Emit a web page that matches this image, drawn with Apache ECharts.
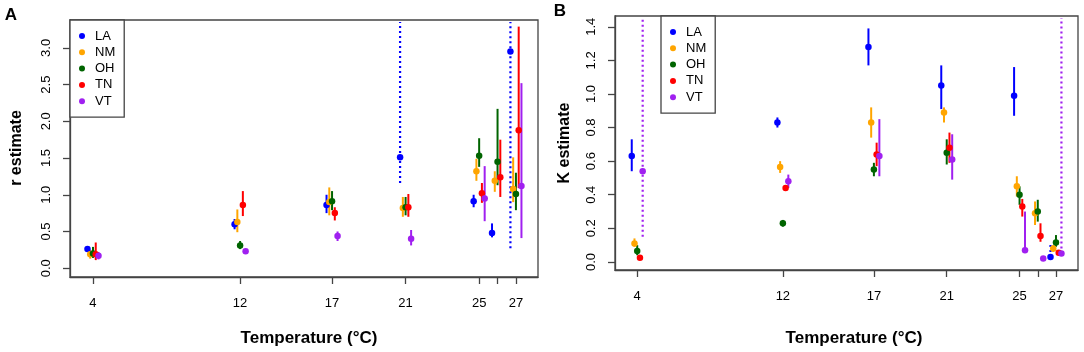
<!DOCTYPE html>
<html>
<head>
<meta charset="utf-8">
<script src="https://cdn.jsdelivr.net/npm/echarts@6/dist/echarts.min.js"></script>
<style>
html,body{margin:0;padding:0;background:#fff;}
#chart{width:1084px;height:352px;}
</style>
</head>
<body>
<div id="chart"></div>
<script>
// ---------- data ----------
const temps = [4, 12, 17, 21, 25, 26, 27];
const tickTemps = [4, 12, 17, 21, 25, 26, 27];
const labelTemps = [4, 12, 17, 21, 25, 27];
const pops = ['LA', 'NM', 'OH', 'TN', 'VT'];
const rTicks = [0, 0.5, 1, 1.5, 2, 2.5, 3];
const kTicks = [0, 0.2, 0.4, 0.6, 0.8, 1.0, 1.2, 1.4];

// Panel A: r estimate (Infinity = interval runs off the top)
const rLA    = [0.26, 0.60, 0.86, 1.51, 0.91, 0.48, 2.95];
const rLA_lo = [0.23, 0.53, 0.75, 1.16, 0.83, 0.42, 0.27];
const rLA_hi = [0.29, 0.67, 1.00, Infinity, 1.00, 0.61, Infinity];
const rLA_dot = [0, 0, 0, 1, 0, 0, 1];
const rNM    = [0.19, 0.63, 0.90, 0.82, 1.32, 1.19, 1.08];
const rNM_lo = [0.13, 0.49, 0.72, 0.70, 1.19, 1.04, 0.90];
const rNM_hi = [0.25, 0.80, 1.10, 0.97, 1.49, 1.32, 1.51];
const rOH    = [0.20, 0.31, 0.91, 0.83, 1.53, 1.45, 1.01];
const rOH_lo = [0.14, 0.26, 0.79, 0.72, 1.38, 1.13, 0.79];
const rOH_hi = [0.29, 0.37, 1.05, 0.97, 1.77, 2.17, 1.30];
const rTN    = [0.19, 0.86, 0.75, 0.83, 1.02, 1.24, 1.88];
const rTN_lo = [0.11, 0.71, 0.65, 0.70, 0.89, 0.97, 1.09];
const rTN_hi = [0.35, 1.05, 0.83, 1.01, 1.16, 1.75, 3.29];
const rVT    = [0.17, 0.23, 0.44, 0.40, 0.95, null, 1.12];
const rVT_lo = [0.12, 0.21, 0.37, 0.31, 0.64, null, 0.41];
const rVT_hi = [0.22, 0.26, 0.50, 0.52, 1.39, null, 2.52];

// Panel B: K estimate
const kLA    = [0.63, 0.83, 1.28, 1.05, 0.99, null, 0.03];
const kLA_lo = [0.54, 0.80, 1.17, 0.91, 0.87, null, 0.03];
const kLA_hi = [0.73, 0.86, 1.39, 1.17, 1.16, null, 0.11];
const kLA_dot = [0, 0, 0, 0, 0, 0, 1];
const kNM    = [0.11, 0.565, 0.83, 0.89, 0.45, 0.29, 0.08];
const kNM_lo = [0.09, 0.53, 0.74, 0.83, 0.39, 0.22, 0.06];
const kNM_hi = [0.14, 0.60, 0.92, 0.92, 0.51, 0.36, 0.10];
const kOH    = [0.065, 0.23, 0.55, 0.65, 0.40, 0.30, 0.115];
const kOH_lo = [0.04, 0.21, 0.51, 0.58, 0.34, 0.24, 0.09];
const kOH_hi = [0.10, 0.25, 0.59, 0.73, 0.45, 0.37, 0.16];
const kTN    = [0.025, 0.44, 0.64, 0.68, 0.33, 0.155, 0.055];
const kTN_lo = [0.02, 0.43, 0.57, 0.59, 0.27, 0.12, 0.05];
const kTN_hi = [0.03, 0.45, 0.71, 0.77, 0.375, 0.23, 0.06];
const kVT    = [0.54, 0.48, 0.63, 0.61, 0.07, 0.02, 0.05];
const kVT_lo = [0.15, 0.44, 0.51, 0.49, 0.07, 0.02, 0.05];
const kVT_hi = [Infinity, 0.52, 0.85, 0.76, 0.30, 0.02, Infinity];
const kVT_dot = [1, 0, 0, 0, 0, 0, 1];

// ---------- style ----------
const colors = {LA: '#0000FF', NM: '#FFA500', OH: '#006400', TN: '#FF0000', VT: '#A020F0'};
const jitter = {LA: -0.3, NM: -0.15, OH: 0, TN: 0.15, VT: 0.3};
const FONT = '"Liberation Sans", Arial, Helvetica, sans-serif';
const BOX = '#444';

const panelA = {
  LA: [rLA, rLA_lo, rLA_hi, rLA_dot], NM: [rNM, rNM_lo, rNM_hi], OH: [rOH, rOH_lo, rOH_hi],
  TN: [rTN, rTN_lo, rTN_hi], VT: [rVT, rVT_lo, rVT_hi]
};
const panelB = {
  LA: [kLA, kLA_lo, kLA_hi, kLA_dot], NM: [kNM, kNM_lo, kNM_hi], OH: [kOH, kOH_lo, kOH_hi],
  TN: [kTN, kTN_lo, kTN_hi], VT: [kVT, kVT_lo, kVT_hi, kVT_dot]
};
const yRange = [[-0.12, 3.38], [-0.048, 1.464]];

function buildSeries(panel, idx) {
  const out = [];
  const yMax = yRange[idx][1];
  pops.forEach(p => {
    const [est, lo, hi, dot] = panel[p];
    const barData = [], ptData = [];
    temps.forEach((t, i) => {
      if (est[i] == null) return;
      const x = t + jitter[p];
      const h = isFinite(hi[i]) ? hi[i] : yMax;
      barData.push([x, lo[i], h, dot ? dot[i] : 0]);
      ptData.push([x, est[i]]);
    });
    out.push({
      type: 'custom', xAxisIndex: idx, yAxisIndex: idx, silent: true, z: 3,
      data: barData,
      renderItem: (params, api) => {
        const x = api.value(0);
        const a = api.coord([x, api.value(1)]);
        const b = api.coord([x, api.value(2)]);
        const cs = params.coordSys;
        const clampY = y => Math.max(cs.y + 2, Math.min(cs.y + cs.height, y));
        const dotted = api.value(3) === 1;
        return {
          type: 'line',
          shape: {x1: a[0], y1: clampY(a[1]), x2: b[0], y2: clampY(b[1])},
          style: {stroke: colors[p], lineWidth: dotted ? 2.2 : 2, lineDash: dotted ? [2, 3] : null}
        };
      }
    });
    out.push({
      type: 'scatter', name: p, xAxisIndex: idx, yAxisIndex: idx, z: 4,
      symbol: 'circle', symbolSize: 6.5, silent: true,
      itemStyle: {color: colors[p], opacity: 1},
      data: ptData
    });
  });
  return out;
}

const legendData = pops.map(p => ({name: p, icon: 'circle', itemStyle: {color: colors[p]}}));
function legend(left, top) {
  return {
    left, top, orient: 'vertical', data: legendData, selectedMode: false,
    itemWidth: 6, itemHeight: 6, itemGap: 2.3, padding: [9, 9, 9, 9],
    borderColor: BOX, borderWidth: 1.3, backgroundColor: '#fff',
    textStyle: {fontFamily: FONT, fontSize: 13, color: '#000', lineHeight: 14, padding: [0, 0, 0, 5]}
  };
}

function xAxis(idx, min, max) {
  return {
    type: 'value', gridIndex: idx, min, max,
    axisLine: {show: true, onZero: false, lineStyle: {color: BOX, width: 1.3}},
    axisTick: {show: true, customValues: tickTemps, length: 7, lineStyle: {color: BOX, width: 1.3}},
    axisLabel: {customValues: labelTemps, fontFamily: FONT, fontSize: 13, color: '#000', margin: 20},
    splitLine: {show: false}
  };
}
function yAxis(idx, ticks, dec) {
  return {
    type: 'value', gridIndex: idx, min: yRange[idx][0], max: yRange[idx][1],
    axisLine: {show: true, onZero: false, lineStyle: {color: BOX, width: 1.3}},
    axisTick: {show: true, customValues: ticks, length: 7, lineStyle: {color: BOX, width: 1.3}},
    axisLabel: {customValues: ticks, rotate: 90, fontFamily: FONT, fontSize: 13, color: '#000', margin: 17,
      formatter: v => Number(v).toFixed(dec)},
    splitLine: {show: false}
  };
}

const titleStyle = {fontFamily: FONT, fontWeight: 'bold', fontSize: 16, fill: '#000'};
const option = {
  animation: false,
  backgroundColor: '#fff',
  grid: [
    {left: 70, top: 20, width: 468, height: 257, show: true, borderColor: BOX, borderWidth: 1.3, backgroundColor: 'transparent'},
    {left: 615, top: 16, width: 463, height: 254, show: true, borderColor: BOX, borderWidth: 1.3, backgroundColor: 'transparent'}
  ],
  xAxis: [xAxis(0, 2.75, 28.2), xAxis(1, 2.78, 28.21)],
  yAxis: [yAxis(0, rTicks, 1), yAxis(1, kTicks, 1)],
  legend: [legend(70, 20), legend(661, 16)],
  series: [...buildSeries(panelA, 0), ...buildSeries(panelB, 1)],
  graphic: [
    {type: 'text', x: 11, y: 15, style: Object.assign({}, titleStyle, {text: 'A', fontSize: 17, align: 'center', verticalAlign: 'middle'})},
    {type: 'text', x: 560, y: 11, style: Object.assign({}, titleStyle, {text: 'B', fontSize: 17, align: 'center', verticalAlign: 'middle'})},
    {type: 'text', x: 17, y: 148, rotation: Math.PI / 2, style: Object.assign({}, titleStyle, {text: 'r estimate', align: 'center', verticalAlign: 'middle'})},
    {type: 'text', x: 565, y: 143, rotation: Math.PI / 2, style: Object.assign({}, titleStyle, {text: 'K estimate', align: 'center', verticalAlign: 'middle'})},
    {type: 'text', x: 309, y: 338, style: Object.assign({}, titleStyle, {text: 'Temperature (°C)', fontSize: 17, align: 'center', verticalAlign: 'middle'})},
    {type: 'text', x: 854, y: 338, style: Object.assign({}, titleStyle, {text: 'Temperature (°C)', fontSize: 17, align: 'center', verticalAlign: 'middle'})}
  ]
};

const chart = echarts.init(document.getElementById('chart'), null, {renderer: 'canvas'});
chart.setOption(option);
</script>
</body>
</html>
